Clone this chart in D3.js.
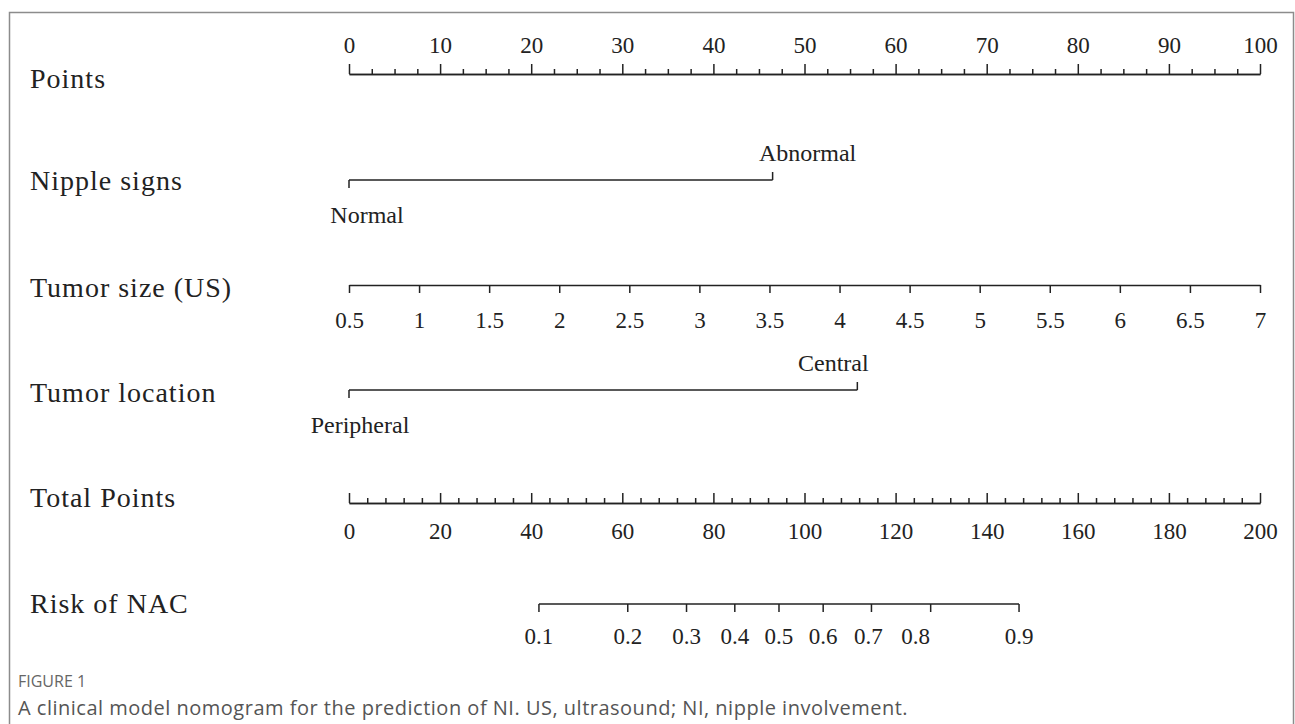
<!DOCTYPE html>
<html>
<head>
<meta charset="utf-8">
<script src="https://cdn.jsdelivr.net/npm/d3@7"></script>
<style>
  html, body { margin: 0; padding: 0; background: #fff; }
  svg { display: block; }
  .axis path, .axis line { stroke: #222; stroke-width: 1.5; }
  .axis text { fill: #222; }
</style>
</head>
<body>
<svg width="1295" height="724"></svg>
<script>
// row labels
var rowLabels = ["Points", "Nipple signs", "Tumor size (US)", "Tumor location", "Total Points", "Risk of NAC"];

// points scale ticks
var pointsTicks = [0, 10, 20, 30, 40, 50, 60, 70, 80, 90, 100];

// categorical predictors: level names and their points
var nippleLevels = ["Normal", "Abnormal"];
var nipplePoints = [0, 46.5];
var locationLevels = ["Peripheral", "Central"];
var locationPoints = [0, 55.8];

// tumor size (cm), 0.5 -> 0 points, 7 -> 100 points
var sizeTicks = [0.5, 1, 1.5, 2, 2.5, 3, 3.5, 4, 4.5, 5, 5.5, 6, 6.5, 7];

// total points
var totalTicks = [0, 20, 40, 60, 80, 100, 120, 140, 160, 180, 200];

// risk ticks and the total points each one sits at
var riskTicks = [0.1, 0.2, 0.3, 0.4, 0.5, 0.6, 0.7, 0.8, 0.9];
var riskTotalPoints = [41.7, 61.2, 74.1, 84.7, 94.4, 104.1, 114.7, 127.7, 147.1];

var captionHead = "FIGURE 1";
var captionText = "A clinical model nomogram for the prediction of NI. US, ultrasound; NI, nipple involvement.";

var serif = "'Liberation Serif', 'Times New Roman', serif";
var x0 = 349, x1 = 1260;

// small label shifts seen in the original figure
var levelNudge = { "Normal": 18, "Abnormal": 35, "Peripheral": 11, "Central": -24 };
var riskNudge = { 0.7: -3, 0.8: -15 };

var svg = d3.select("svg");

// frame
svg.append("rect")
	.attr("x", 9.5).attr("y", 12.5)
	.attr("width", 1284).attr("height", 740)
	.attr("fill", "none")
	.attr("stroke", "#8c8c8c")
	.attr("stroke-width", 1.5);

var xPts = d3.scaleLinear().domain([0, 100]).range([x0, x1]);
var xSize = d3.scaleLinear().domain([sizeTicks[0], sizeTicks[sizeTicks.length - 1]]).range([x0, x1]);
var xTotal = d3.scaleLinear().domain([0, 200]).range([x0, x1]);

var rowY = [78, 180, 287, 392, 497, 603];

svg.selectAll("text.row")
	.data(rowLabels)
	.enter().append("text")
		.attr("class", "row")
		.attr("x", 30)
		.attr("y", function (d, i) { return rowY[i]; })
		.attr("dy", "0.35em")
		.attr("font-family", serif)
		.attr("font-size", 28)
		.attr("letter-spacing", 1)
		.attr("fill", "#222")
		.text(function (d) { return d; });

function styleAxis(g) {
	g.attr("class", "axis")
		.attr("font-family", serif)
		.attr("font-size", 23);
	return g;
}

// Points
var pointsMinor = d3.range(0, 100.01, 2.5).filter(function (d) { return d % 10 !== 0; });
svg.append("g")
	.attr("transform", "translate(0,74)")
	.call(d3.axisTop(xPts).tickValues(pointsMinor).tickSize(5).tickSizeOuter(0).tickFormat(""))
	.call(styleAxis);
svg.append("g")
	.attr("transform", "translate(0,74)")
	.call(d3.axisTop(xPts).tickValues(pointsTicks).tickSize(10).tickSizeOuter(0).tickPadding(11))
	.call(styleAxis);

// categorical rows
function catRow(levels, pts, y) {
	var g = svg.append("g").attr("class", "axis");
	g.append("line")
		.attr("x1", xPts(pts[0])).attr("x2", xPts(pts[1]))
		.attr("y1", y).attr("y2", y);
	g.selectAll("line.end")
		.data(pts)
		.enter().append("line")
			.attr("class", "end")
			.attr("x1", function (d) { return xPts(d); })
			.attr("x2", function (d) { return xPts(d); })
			.attr("y1", y)
			.attr("y2", function (d, i) { return i === 0 ? y + 8 : y - 8; });
	g.selectAll("text")
		.data(levels)
		.enter().append("text")
			.attr("x", function (d, i) { return xPts(pts[i]) + (levelNudge[d] || 0); })
			.attr("y", function (d, i) { return i === 0 ? y + 35 : y - 27; })
			.attr("dy", "0.35em")
			.attr("text-anchor", "middle")
			.attr("font-family", serif)
			.attr("font-size", 24)
			.text(function (d) { return d; });
}
catRow(nippleLevels, nipplePoints, 180);
catRow(locationLevels, locationPoints, 390);

// Tumor size
svg.append("g")
	.attr("transform", "translate(0,285)")
	.call(d3.axisBottom(xSize).tickValues(sizeTicks).tickSize(8).tickSizeOuter(0).tickPadding(19)
		.tickFormat(function (d) { return String(d); }))
	.call(styleAxis);

// Total points: ticks up, labels below
var totalMinor = d3.range(0, 200.01, 4).filter(function (d) { return d % 20 !== 0; });
svg.append("g")
	.attr("transform", "translate(0,503)")
	.call(d3.axisTop(xTotal).tickValues(totalMinor).tickSize(5).tickSizeOuter(0).tickFormat(""))
	.call(styleAxis);
svg.append("g")
	.attr("transform", "translate(0,503)")
	.call(d3.axisTop(xTotal).tickValues(totalTicks).tickSize(10).tickSizeOuter(0).tickFormat(""))
	.call(styleAxis);
var tl = svg.append("g")
	.attr("transform", "translate(0,503)")
	.call(d3.axisBottom(xTotal).tickValues(totalTicks).tickSize(0).tickPadding(20))
	.call(styleAxis);
tl.select(".domain").remove();

// Risk
var xRisk = d3.scaleOrdinal()
	.domain(riskTicks)
	.range(riskTotalPoints.map(function (d) { return xTotal(d); }));
var rg = svg.append("g").attr("transform", "translate(0,604)").call(styleAxis);
rg.append("line")
	.attr("x1", xRisk(riskTicks[0])).attr("x2", xRisk(riskTicks[riskTicks.length - 1]))
	.attr("y1", 0).attr("y2", 0);
var rt = rg.selectAll("g.tick")
	.data(riskTicks)
	.enter().append("g")
		.attr("class", "tick")
		.attr("transform", function (d) { return "translate(" + xRisk(d) + ",0)"; });
rt.append("line").attr("y2", 8);
rt.append("text")
	.attr("x", function (d) { return riskNudge[d] || 0; })
	.attr("y", 24)
	.attr("dy", "0.71em")
	.attr("text-anchor", "middle")
	.text(function (d) { return d; });

// caption
svg.append("text")
	.attr("x", 18).attr("y", 687)
	.attr("font-family", "'Open Sans', sans-serif")
	.attr("font-size", 16)
	.attr("fill", "#666")
	.text(captionHead);
svg.append("text")
	.attr("x", 18).attr("y", 715)
	.attr("font-family", "'Open Sans', sans-serif")
	.attr("font-size", 20)
	.attr("letter-spacing", 0.5)
	.attr("fill", "#555")
	.text(captionText);
</script>
</body>
</html>
